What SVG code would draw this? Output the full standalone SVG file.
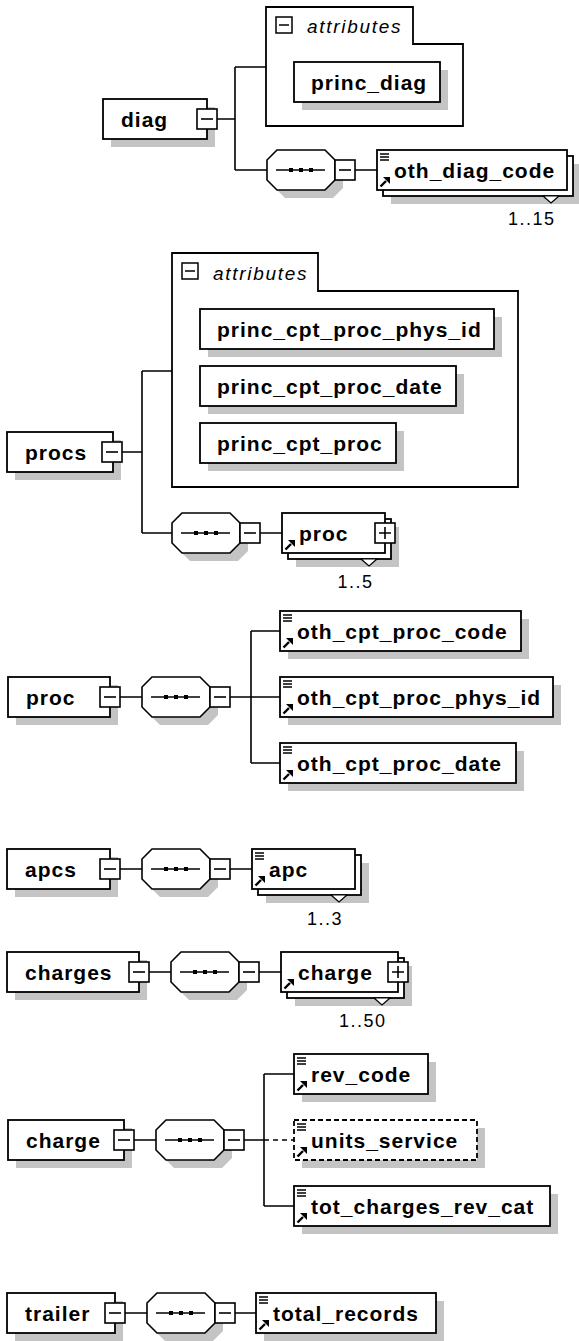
<svg xmlns="http://www.w3.org/2000/svg" width="579" height="1341" viewBox="0 0 579 1341">
<style>
.bg{fill:#fff}
.box{fill:#fff;stroke:#000;stroke-width:1.8}
.dbox{fill:#fff;stroke:#000;stroke-width:1.8;stroke-dasharray:5,3}
.sh{fill:#c4c4c4}
.cont{fill:#fff;stroke:#000;stroke-width:1.8}
.conn{fill:none;stroke:#000;stroke-width:1.6}
.dconn{fill:none;stroke:#000;stroke-width:1.6;stroke-dasharray:5,4}
.t{font-family:"Liberation Sans",Arial,sans-serif;font-size:21px;font-weight:bold;letter-spacing:1px;fill:#000}
.it{font-family:"Liberation Sans",Arial,sans-serif;font-size:19px;font-style:italic;letter-spacing:1.7px;fill:#000}
.m{font-family:"Liberation Sans",Arial,sans-serif;font-size:18px;letter-spacing:1.5px;fill:#000}
.tri{fill:#fff;stroke:#000;stroke-width:1.2}
</style>
<defs>
<g id="btnMinus"><rect x="0" y="0" width="20" height="20" fill="#fff" stroke="#000" stroke-width="1.6"/><path d="M4,10H16" stroke="#000" stroke-width="1.6"/></g>
<g id="btnPlus"><rect x="0" y="0" width="20" height="20" fill="#fff" stroke="#000" stroke-width="1.6"/><path d="M4,10H16M10,4V16" stroke="#000" stroke-width="1.6"/></g>
<g id="attrIcon"><rect x="0" y="0" width="16" height="16" fill="#fff" stroke="#000" stroke-width="1.5"/><path d="M3,8H13" stroke="#000" stroke-width="1.5"/></g>
<g id="seq"><polygon class="sh" transform="translate(8,8)" points="10,0 58,0 68,10 68,30 58,40 10,40 0,30 0,10"/><polygon points="10,0 58,0 68,10 68,30 58,40 10,40 0,30 0,10" fill="#fff" stroke="#000" stroke-width="1.6"/><path d="M9,20H58" stroke="#000" stroke-width="1.6"/><rect x="22" y="18" width="4" height="4"/><rect x="32" y="18" width="4" height="4"/><rect x="42" y="18" width="4" height="4"/></g>
<g id="simple"><path d="M0,1H9M0,4H9M0,7H9" stroke="#000" stroke-width="1.3"/></g>
<g id="ref"><path d="M0.5,9.5L6,4" stroke="#000" stroke-width="2.4"/><polygon points="3,0 10,0 10,7"/></g>
</defs>
<rect class="bg" x="0" y="0" width="579" height="1341"/>
<g id="connectors">
<path class="conn" d="M217,119H235M235,67V170M235,67H266M235,170H267M355,170H377"/>
<path class="conn" d="M122,452H142M142,371V533M142,371H172M142,533H172M260,533H282"/>
<path class="conn" d="M120,697H142M230,697H280M251,631V763M251,631H280M251,763H280"/>
<path class="conn" d="M120,869H142M230,869H252"/>
<path class="conn" d="M149,972H171M259,972H281"/>
<path class="conn" d="M134,1140H156M244,1140H264M264,1074V1206M264,1074H294M264,1206H294"/>
<path class="dconn" d="M264,1140H294"/>
<path class="conn" d="M125,1313H147M235,1313H256"/>
</g>
<!-- Section 1 -->
<g id="diag"><rect class="sh" x="111" y="107" width="104" height="40"/><rect class="box" x="103" y="99" width="104" height="40"/><text class="t" x="121" y="127">diag</text><use href="#btnMinus" x="197" y="109"/></g>
<g id="diag_attributes"><polygon class="cont" points="266,7 413,7 413,44 463,44 463,126 266,126"/><use href="#attrIcon" x="276" y="17"/><text class="it" x="307" y="33">attributes</text></g>
<g id="princ_diag"><rect class="sh" x="302" y="70" width="146" height="40"/><rect class="box" x="294" y="62" width="146" height="40"/><text class="t" x="311" y="90">princ_diag</text></g>
<g id="diag_seq"><use href="#seq" x="267" y="150"/><use href="#btnMinus" x="335" y="160"/></g>
<g id="oth_diag_code"><rect class="sh" x="391" y="164" width="190" height="40"/><rect class="box" x="383" y="156" width="190" height="40"/><polygon class="tri" points="543,196 559,196 551,203"/><rect class="box" x="377" y="150" width="190" height="40"/><use href="#simple" x="380" y="153"/><use href="#ref" x="380" y="177"/><text class="t" x="394" y="178">oth_diag_code</text><text class="m" x="508" y="225">1..15</text></g>
<!-- Section 2 -->
<g id="procs"><rect class="sh" x="15" y="440" width="106" height="40"/><rect class="box" x="7" y="432" width="106" height="40"/><text class="t" x="25" y="460">procs</text><use href="#btnMinus" x="102" y="442"/></g>
<g id="procs_attributes"><polygon class="cont" points="172,253 318,253 318,291 518,291 518,487 172,487"/><use href="#attrIcon" x="182" y="263"/><text class="it" x="213" y="280">attributes</text></g>
<g id="princ_cpt_proc_phys_id"><rect class="sh" x="208" y="317" width="294" height="40"/><rect class="box" x="200" y="309" width="294" height="40"/><text class="t" x="217" y="337">princ_cpt_proc_phys_id</text></g>
<g id="princ_cpt_proc_date"><rect class="sh" x="208" y="374" width="256" height="40"/><rect class="box" x="200" y="366" width="256" height="40"/><text class="t" x="217" y="394">princ_cpt_proc_date</text></g>
<g id="princ_cpt_proc"><rect class="sh" x="208" y="431" width="196" height="40"/><rect class="box" x="200" y="423" width="196" height="40"/><text class="t" x="217" y="451">princ_cpt_proc</text></g>
<g id="procs_seq"><use href="#seq" x="172" y="513"/><use href="#btnMinus" x="240" y="523"/></g>
<g id="procs_proc"><rect class="sh" x="296" y="527" width="103" height="40"/><rect class="box" x="288" y="519" width="103" height="40"/><polygon class="tri" points="361,559 377,559 369,566"/><rect class="box" x="282" y="513" width="103" height="40"/><use href="#ref" x="285" y="540"/><text class="t" x="299" y="541">proc</text><use href="#btnPlus" x="375" y="523"/><text class="m" x="337.5" y="588">1..5</text></g>
<!-- Section 3 -->
<g id="proc"><rect class="sh" x="16" y="685" width="102" height="40"/><rect class="box" x="8" y="677" width="102" height="40"/><text class="t" x="26" y="705">proc</text><use href="#btnMinus" x="100" y="687"/></g>
<g id="proc_seq"><use href="#seq" x="142" y="677"/><use href="#btnMinus" x="210" y="687"/></g>
<g id="oth_cpt_proc_code"><rect class="sh" x="288" y="619" width="241" height="40"/><rect class="box" x="280" y="611" width="241" height="40"/><use href="#simple" x="283" y="614"/><use href="#ref" x="283" y="638"/><text class="t" x="297" y="639">oth_cpt_proc_code</text></g>
<g id="oth_cpt_proc_phys_id"><rect class="sh" x="288" y="685" width="273" height="40"/><rect class="box" x="280" y="677" width="273" height="40"/><use href="#simple" x="283" y="680"/><use href="#ref" x="283" y="704"/><text class="t" x="297" y="705">oth_cpt_proc_phys_id</text></g>
<g id="oth_cpt_proc_date"><rect class="sh" x="288" y="751" width="236" height="40"/><rect class="box" x="280" y="743" width="236" height="40"/><use href="#simple" x="283" y="746"/><use href="#ref" x="283" y="770"/><text class="t" x="297" y="771">oth_cpt_proc_date</text></g>
<!-- Section 4 -->
<g id="apcs"><rect class="sh" x="15" y="857" width="103" height="40"/><rect class="box" x="7" y="849" width="103" height="40"/><text class="t" x="25" y="877">apcs</text><use href="#btnMinus" x="100" y="859"/></g>
<g id="apcs_seq"><use href="#seq" x="142" y="849"/><use href="#btnMinus" x="210" y="859"/></g>
<g id="apc"><rect class="sh" x="266" y="863" width="103" height="40"/><rect class="box" x="258" y="855" width="103" height="40"/><polygon class="tri" points="331,895 347,895 339,902"/><rect class="box" x="252" y="849" width="103" height="40"/><use href="#simple" x="255" y="852"/><use href="#ref" x="255" y="876"/><text class="t" x="269" y="877">apc</text><text class="m" x="307" y="925">1..3</text></g>
<!-- Section 5 -->
<g id="charges"><rect class="sh" x="15" y="960" width="132" height="40"/><rect class="box" x="7" y="952" width="132" height="40"/><text class="t" x="25" y="980">charges</text><use href="#btnMinus" x="129" y="962"/></g>
<g id="charges_seq"><use href="#seq" x="171" y="952"/><use href="#btnMinus" x="239" y="962"/></g>
<g id="charges_charge"><rect class="sh" x="295" y="966" width="117" height="40"/><rect class="box" x="287" y="958" width="117" height="40"/><polygon class="tri" points="374,998 390,998 382,1005"/><rect class="box" x="281" y="952" width="117" height="40"/><use href="#ref" x="284" y="979"/><text class="t" x="298" y="980">charge</text><use href="#btnPlus" x="388" y="962"/><text class="m" x="339" y="1027">1..50</text></g>
<!-- Section 6 -->
<g id="charge"><rect class="sh" x="16" y="1128" width="116" height="40"/><rect class="box" x="8" y="1120" width="116" height="40"/><text class="t" x="26" y="1148">charge</text><use href="#btnMinus" x="114" y="1130"/></g>
<g id="charge_seq"><use href="#seq" x="156" y="1120"/><use href="#btnMinus" x="224" y="1130"/></g>
<g id="rev_code"><rect class="sh" x="302" y="1062" width="134" height="40"/><rect class="box" x="294" y="1054" width="134" height="40"/><use href="#simple" x="297" y="1057"/><use href="#ref" x="297" y="1081"/><text class="t" x="311" y="1082">rev_code</text></g>
<g id="units_service"><rect class="sh" x="302" y="1128" width="183" height="40"/><rect class="dbox" x="294" y="1120" width="183" height="40"/><use href="#simple" x="297" y="1123"/><use href="#ref" x="297" y="1147"/><text class="t" x="311" y="1148">units_service</text></g>
<g id="tot_charges_rev_cat"><rect class="sh" x="302" y="1194" width="256" height="40"/><rect class="box" x="294" y="1186" width="256" height="40"/><use href="#simple" x="297" y="1189"/><use href="#ref" x="297" y="1213"/><text class="t" x="311" y="1214">tot_charges_rev_cat</text></g>
<!-- Section 7 -->
<g id="trailer"><rect class="sh" x="15" y="1301" width="108" height="40"/><rect class="box" x="7" y="1293" width="108" height="40"/><text class="t" x="25" y="1321">trailer</text><use href="#btnMinus" x="105" y="1303"/></g>
<g id="trailer_seq"><use href="#seq" x="147" y="1293"/><use href="#btnMinus" x="215" y="1303"/></g>
<g id="total_records"><rect class="sh" x="264" y="1301" width="180" height="40"/><rect class="box" x="256" y="1293" width="180" height="40"/><use href="#simple" x="259" y="1296"/><use href="#ref" x="259" y="1320"/><text class="t" x="273" y="1321">total_records</text></g>
</svg>
